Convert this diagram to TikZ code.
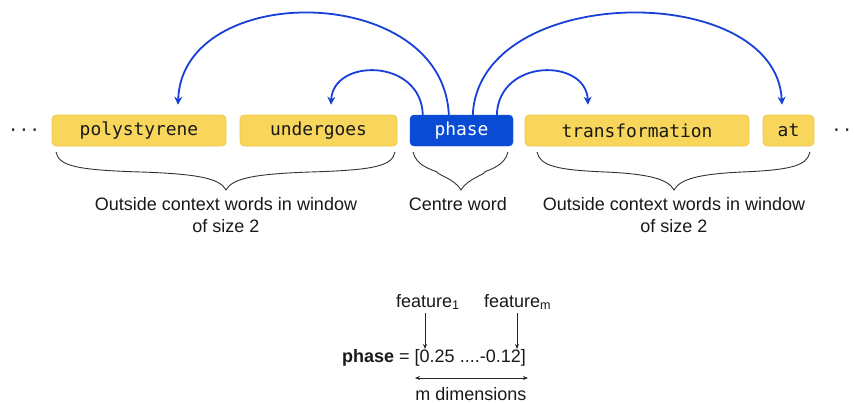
\documentclass[tikz,border=0pt]{standalone}
\usepackage{fontspec}
\setmainfont{Liberation Sans}
\newfontfamily\monof{DejaVu Sans Mono}
\usetikzlibrary{arrows.meta,calc}
\definecolor{wordy}{HTML}{F7D65B}
\definecolor{wordyb}{HTML}{EFC94A}
\definecolor{wordb}{HTML}{0A4BD6}
\definecolor{arcb}{HTML}{1840D8}
\definecolor{brc}{HTML}{333333}
\newcommand\drawbrace[3]{%
  \draw[bracestyle] (#1,152) .. controls (#1+3,166) and (#1+20,170) .. ({(#1+#2)/2},172)
    .. controls ({#2-25},174) and ({#2-6},179) .. (#2,190)
    .. controls ({#2+6},179) and ({#2+25},174) .. ({(#2+#3)/2},172)
    .. controls (#3-20,170) and (#3-3,166) .. (#3,152);}
\begin{document}
\begin{tikzpicture}[x=1pt,y=-1pt,
  word/.style={rounded corners=4pt, minimum height=31pt, inner sep=0pt,
    font=\monof\fontsize{17.9}{20}\selectfont},
  yword/.style={word, fill=wordy, draw=wordyb, line width=0.6pt, text=black!90},
  bword/.style={word, fill=wordb, draw=wordb, text=white},
  arcarrow/.style={draw=arcb, line width=1.8pt, -{Stealth[length=8pt,width=8pt]}},
  bracestyle/.style={draw=brc, line width=0.9pt},
  lbl/.style={inner sep=0pt, align=center, font=\fontsize{18}{22}\selectfont, text=black!90},
  thinarrow/.style={draw=black!85, line width=0.7pt, -{Stealth[length=5pt,width=4pt]}},
  dotstyle/.style={inner sep=0pt, font=\monof\fontsize{17.9}{20}\selectfont, text=black!80}
]
\useasboundingbox[fill=white] (0,0) rectangle (854,402);

\node[dotstyle] (ldots) at (24,130) {...};
\node[dotstyle, anchor=west] (rdots) at (831,130) {...};

\node[yword, minimum width=174pt] (poly) at (139,130.5) {polystyrene};
\node[yword, minimum width=157pt] (under) at (318.5,130.5) {undergoes};
\node[bword, minimum width=103pt] (phase) at (461.5,130.5) {phase};
\node[yword, minimum width=224pt] (trans) at (637,130.5) {transformation};
\node[yword, minimum width=51pt] (at) at (788.5,130.5) {at};

% arcs
\draw[arcarrow] ($(phase.north west)+(39,0)$) .. controls (443,-18) and (182,-20) .. ($(poly.north)+(39,-10)$);
\draw[arcarrow] ($(phase.north west)+(13,0)$) .. controls (421,58) and (333,58) .. ($(under.north)+(12.5,-10)$);
\draw[arcarrow] ($(phase.north west)+(87,0)$) .. controls (499,58) and (586,58) .. ($(trans.north)+(-49,-10)$);
\draw[arcarrow] ($(phase.north west)+(63,0)$) .. controls (479,-18) and (776,-20) .. ($(at.north)+(-6.5,-10)$);

% braces
\drawbrace{56}{226}{395}
\drawbrace{413}{461}{508}
\drawbrace{537}{674}{810}

\node[lbl] (lctx) at (226,215) {Outside context words in window\\of size 2};
\node[lbl] (cw) at (458,204) {Centre word};
\node[lbl] (rctx) at (674,215) {Outside context words in window\\of size 2};

% vector
\node[lbl, anchor=west] (f1) at (396,302) {feature\textsubscript{1}};
\node[lbl, anchor=west] (fm) at (484,302) {feature\textsubscript{m}};
\node[lbl, anchor=west] (vec) at (342,358) {\textbf{phase} = [0.25 ....-0.12]};
\coordinate (f1top) at (425,313);
\coordinate (f1bot) at (425,349);
\coordinate (fmtop) at (517,313);
\coordinate (fmbot) at (517,349);
\draw[thinarrow] (f1top) -- (f1bot);
\draw[thinarrow] (fmtop) -- (fmbot);
\coordinate (dl) at (415,378);
\coordinate (dr) at (528,378);
\draw[thinarrow, {Stealth[length=5pt,width=4pt]}-{Stealth[length=5pt,width=4pt]}] (dl) -- (dr);
\node[lbl] (mdim) at (471,394.5) {m dimensions};
\end{tikzpicture}
\end{document}
